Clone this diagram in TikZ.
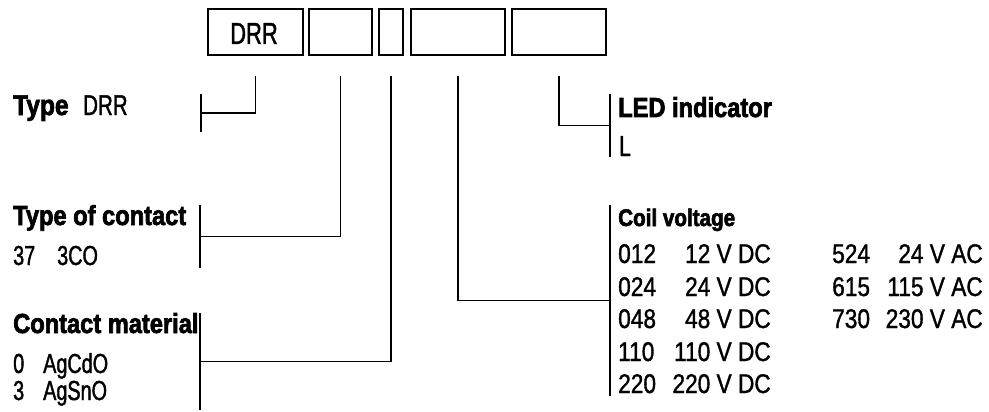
\documentclass[tikz,border=0pt]{standalone}
\usepackage{fontspec}
\setmainfont{Liberation Sans}
\newfontfamily\rgfont{Liberation Sans}[FakeStretch=0.72,FakeBold=1.4]
\newfontfamily\numfont{Liberation Sans}[FakeStretch=0.84,FakeBold=1.2]
\newfontfamily\hdfont{Liberation Sans}[FakeStretch=0.86,FakeBold=2.4]
\usetikzlibrary{calc}
\tikzset{
  hd/.style={anchor=base west, inner sep=0pt, font=\hdfont\bfseries\fontsize{27.5}{27.5}\selectfont},
  hdsmall/.style={anchor=base west, inner sep=0pt, font=\hdfont\bfseries\fontsize{24}{24}\selectfont},
  tx/.style={anchor=base west, inner sep=0pt, font=\rgfont\fontsize{27.5}{27.5}\selectfont},
  numl/.style={anchor=base west, inner sep=0pt, font=\numfont\fontsize{27}{27}\selectfont},
  numr/.style={anchor=base east, inner sep=0pt, font=\numfont\fontsize{27}{27}\selectfont},
  codebox/.style={draw, line width=1.5pt, minimum height=46pt, inner sep=0pt},
  ln/.style={line width=1.3pt}
}
\begin{document}
\begin{tikzpicture}[x=1pt,y=-1pt]
\useasboundingbox (0,0) rectangle (989,412);
% code boxes
\node[codebox, minimum width=95pt] (b1) at (255.5,32) {};
\node[anchor=base, inner sep=0pt, font=\rgfont\fontsize{30.5}{30.5}\selectfont] (b1t) at (254,44) {DRR};
\node[codebox, minimum width=63pt] (b2) at (340.5,32) {};
\node[codebox, minimum width=24pt] (b3) at (391,32) {};
\node[codebox, minimum width=94pt] (b4) at (458,32) {};
\node[codebox, minimum width=94pt] (b5) at (559,32) {};
% bars
\coordinate (t1) at (201,94);  \coordinate (u1) at (201,132);
\coordinate (t2) at (200,205); \coordinate (u2) at (200,268);
\coordinate (t3) at (200,313); \coordinate (u3) at (200,410);
\coordinate (t4) at (610,205); \coordinate (u4) at (610,396);
\coordinate (t5) at (610,94);  \coordinate (u5) at (610,157);
\foreach \i in {1,...,5} {
  \draw[ln] (t\i) -- (u\i);
  \coordinate (m\i) at ($(t\i)!0.5!(u\i)$);
}
% connectors
\draw[ln] ([yshift=-20pt]b1.south) |- (m1);
\draw[ln] ([yshift=-20pt]b2.south) |- (m2);
\draw[ln] ([yshift=-20pt]b3.south) |- (m3);
\draw[ln] ([yshift=-20pt]b4.south) |- (m4);
\draw[ln] ([yshift=-20pt]b5.south) |- (m5);
% left texts
\node[hd, font=\hdfont\bfseries\fontsize{28.5}{28.5}\selectfont] (typeH) at (13,115) {Type};
\node[tx, font=\rgfont\fontsize{28.5}{28.5}\selectfont] (typeV) at (83,115) {DRR};
\node[hd] (contH) at (13,225) {Type of contact};
\node[tx] (c37) at (13,265) {37};
\node[tx] (c3co) at (57,265) {3CO};
\node[hd] (matH) at (13,333) {Contact material};
\node[tx] (m0) at (13,373) {0};
\node[tx] (m0v) at (43,373) {AgCdO};
\node[tx] (m3) at (13,400) {3};
\node[tx] (m3v) at (43,400) {AgSnO};
% right texts
\node[hd] (ledH) at (618,117) {LED indicator};
\node[tx, font=\rgfont\fontsize{29}{29}\selectfont] (ledL) at (619,156) {L};
\node[hdsmall] (coilH) at (618,226) {Coil voltage};
\node[numl] (k1) at (618,263) {012}; \node[numr] (v1) at (771,263) {12 V DC};
\node[numl] (k2) at (618,296) {024}; \node[numr] (v2) at (771,296) {24 V DC};
\node[numl] (k3) at (618,328) {048}; \node[numr] (v3) at (771,328) {48 V DC};
\node[numl] (k4) at (618,361) {110}; \node[numr] (v4) at (771,361) {110 V DC};
\node[numl] (k5) at (618,393) {220}; \node[numr] (v5) at (771,393) {220 V DC};
\node[numl] (k6) at (832,263) {524}; \node[numr] (v6) at (983,263) {24 V AC};
\node[numl] (k7) at (832,296) {615}; \node[numr] (v7) at (983,296) {115 V AC};
\node[numl] (k8) at (832,328) {730}; \node[numr] (v8) at (983,328) {230 V AC};
\end{tikzpicture}
\end{document}
